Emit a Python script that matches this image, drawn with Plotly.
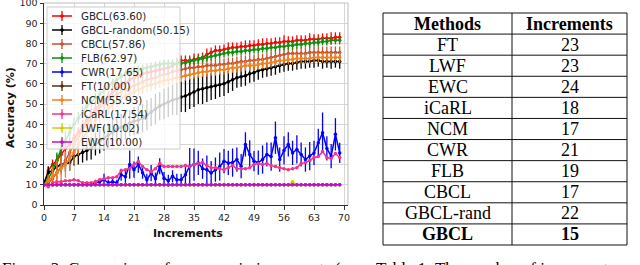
import plotly.graph_objects as go

# ---------------- data ----------------
increments = list(range(70))

gbcl = [10, 17, 20, 22, 25, 28, 30, 33, 36, 39,
        42, 45, 47.5, 50, 52, 54, 56, 57.5, 59, 60.5,
        62, 63, 64, 65, 65.5, 66, 66.5, 67, 67.5, 68,
        69, 70, 71.5, 71.5, 71.5, 72, 72.5, 73, 74.5, 75.5,
        76.5, 76.5, 77, 77.5, 78, 78, 78.5, 78.5, 79, 79,
        79.5, 79.5, 80, 80, 80.5, 80.5, 81, 81, 81, 81.5,
        81.5, 81.5, 82, 82, 82, 82.5, 82.5, 82.5, 83, 83]
gbcl_err = [0.5, 2, 2.5, 3, 3, 3.5, 3, 3, 2.5, 3,
            2.5, 3, 2.5, 3, 2.5, 2.5, 3, 2.5, 2.5, 3,
            2.5, 2.5, 3, 2.5, 2.5, 2.5, 3, 2.5, 2.5, 2.5,
            2.5, 3, 2.5, 2.5, 2.5, 3, 2.5, 2.5, 3, 2.5,
            2.5, 2.5, 2.5, 3, 2.5, 2.5, 2.5, 3, 2.5, 2.5,
            2.5, 3, 2.5, 2.5, 2.5, 2.5, 3, 2.5, 2.5, 2.5,
            2.5, 2.5, 3, 2.5, 2.5, 2.5, 2.5, 3, 2.5, 2.5]

gbcl_random = [11, 16, 17, 19, 20, 20.5, 21, 24, 25, 26,
               27, 28, 30, 31.5, 33, 34.5, 36, 37.5, 38.5, 39.5,
               40.5, 41.5, 42, 43, 44.5, 46, 47.5, 49, 50, 51,
               52, 52.5, 53.5, 54, 55, 56, 57, 57.5, 58, 58.5,
               59, 59.5, 60, 61, 62, 63, 63.5, 64, 65, 65.5,
               66.5, 67, 67.5, 68, 68.5, 69, 69.5, 70, 70, 70.5,
               71, 71, 71, 71.5, 71.5, 71, 71, 71, 71, 71]
gbcl_random_err = [1, 3, 3, 3.5, 3.5, 4, 4, 4.5, 5, 5,
                   5, 5.5, 5.5, 6, 6, 6, 6.5, 6, 6.5, 7,
                   6.5, 7, 7, 7, 7.5, 7, 7.5, 7, 7.5, 7.5,
                   7.5, 8, 7.5, 8, 7.5, 7.5, 7, 7.5, 7, 6.5,
                   6.5, 6, 6, 5.5, 5.5, 5, 5, 5, 4.5, 4.5,
                   4.5, 4, 4, 4, 4, 3.5, 3.5, 3.5, 3.5, 3.5,
                   3.5, 3.5, 3, 3.5, 3, 3.5, 3, 3.5, 3, 3.5]

cbcl = [10, 11, 13, 16, 19, 22, 26, 30, 34, 37,
        40, 43, 45.5, 48, 50, 52, 53.5, 55, 56, 57,
        58, 59, 60, 61, 62, 62.5, 63, 64, 64.5, 65,
        66, 66.5, 67, 67.5, 68, 68, 68.5, 68.5, 69, 69,
        69, 69.5, 69.5, 70, 70, 70.5, 71, 71, 71.5, 71.5,
        72, 72, 72.5, 73, 73.5, 74, 74.5, 75, 75, 75,
        75, 75, 75.5, 75.5, 75.5, 75.5, 75.5, 75.5, 75.5, 75.5]
cbcl_err = [0.5, 2, 3, 3.5, 4, 4, 4, 3.5, 3.5, 3.5,
            3.5, 3, 3, 3, 3, 3, 3, 3, 3, 3,
            3, 3, 3, 3, 3, 3, 3, 3, 3, 3,
            3, 3, 3, 3, 3, 3, 3, 3, 3, 3,
            3, 3, 3, 3, 3, 3, 3, 3, 3, 3,
            3, 3, 3, 3, 3, 3, 3, 3, 3, 3,
            3, 3, 3, 3, 3, 3, 3, 3, 3, 3]

flb = [10, 13, 17, 22, 28, 32, 36, 40, 43, 46,
       49, 51, 53, 55, 57, 59, 60.5, 62, 63.5, 65,
       66, 66.5, 67, 67.5, 68, 68.5, 69, 69.5, 70, 70,
       70, 70, 70, 70.5, 71, 71.5, 72, 72.5, 73, 73.5,
       74, 74.5, 75, 75.5, 75.5, 76, 76, 76.5, 76.5, 77,
       77, 77.5, 77.5, 78, 78, 78.5, 78.5, 79, 79, 79.5,
       79.5, 80, 80, 80.5, 80.5, 81, 81, 81.5, 81.5, 81.5]
flb_err = [0.5, 2, 3, 4, 5, 4.5, 4, 3.5, 3, 3,
           2.5, 2.5, 2.5, 2, 2, 2, 2, 2, 2, 2,
           2, 2, 2, 2, 2, 2, 2, 2, 2, 2,
           2, 2, 2, 2, 2, 2, 2, 2, 2, 2,
           2, 2, 2, 2, 2, 2, 2, 2, 2, 2,
           2, 2, 2, 2, 2, 2, 2, 2, 2, 2,
           2, 2, 2, 2, 2, 2, 2, 2, 2, 2]

cwr = [10, 10, 10, 10, 10, 10, 10, 10, 10, 10,
       10, 10, 11, 11.5, 12.5, 11, 11.5, 11, 15, 14,
       20, 17.5, 20, 16, 12.5, 15.8, 13, 19.2, 13.3, 12,
       14.2, 12.5, 12.5, 15, 19.2, 20, 20.8, 18, 17.5, 15.8,
       17.5, 19, 21.7, 20.8, 21, 22.5, 19.2, 30, 25, 21.7,
       21, 22.5, 25, 24, 33.3, 22.5, 27, 30, 25.8, 27.5,
       25, 22.5, 24.2, 25.8, 30.8, 35.8, 28, 24.2, 35, 25.8]
cwr_err = [0, 0, 0, 0, 0, 0, 0, 0, 0, 0,
           0, 0, 1.5, 1.5, 3, 1.5, 1.5, 1.5, 3, 3,
           7, 4, 4, 3, 3, 4, 3, 4, 3, 3,
           3, 3, 3, 5, 9, 8, 6, 5, 7, 6,
           6, 7, 6, 6, 7, 6, 6, 6, 7, 5,
           6, 7, 6, 7, 8, 6, 7, 6, 6, 7,
           6, 6, 7, 6, 7, 10, 6, 6, 8, 5]

ft = [10] * 70
ft_err = [0.3] * 70

ncm = [10, 12, 14, 16, 18, 20, 23, 26, 30, 33,
       36, 39, 42, 44, 46, 48, 50, 51.5, 53, 54,
       55, 56, 57, 58, 59, 59.5, 60, 61, 61.5, 62,
       62.5, 63, 63.5, 64, 64.5, 65, 65.5, 66, 66, 66.5,
       66.5, 67, 67, 67.5, 68, 68, 68.5, 69, 69, 69,
       69.5, 70, 70, 70.5, 71, 71.5, 71.5, 72, 72, 72.5,
       72.5, 72.5, 72.5, 73, 73, 73, 73, 73, 73, 73]
ncm_err = [0.5, 3, 5, 6, 6, 6.5, 6, 6, 5.5, 5,
           5, 4.5, 4, 4, 3.5, 3.5, 3, 3, 3, 3,
           3, 3, 3, 3, 3, 3, 3, 3, 3, 3,
           2.5, 2.5, 2.5, 2.5, 2.5, 2.5, 2.5, 2.5, 2.5, 2.5,
           2.5, 2.5, 2.5, 2.5, 2.5, 2.5, 2.5, 2.5, 2.5, 2.5,
           2.5, 2.5, 2.5, 2.5, 2.5, 2.5, 2.5, 2.5, 2.5, 2.5,
           2.5, 2.5, 2.5, 2.5, 2.5, 2.5, 2.5, 2.5, 2.5, 2.5]

icarl = [10, 9, 11, 11.5, 11.5, 12, 12, 12.5, 12, 11,
         11, 11, 11.5, 12.5, 13, 13.5, 13.5, 14, 17, 17.5,
         18, 20, 21.5, 19, 17.5, 16.5, 18, 20.5, 19, 19,
         19, 19, 19, 19.5, 19, 20, 20.5, 21, 19.5, 18.5,
         18.5, 18, 17.5, 18.5, 19.5, 18, 18, 18, 18.5, 20,
         20.5, 20, 20.5, 19.5, 19, 18.5, 18, 17.5, 18, 18.5,
         20.5, 21, 22, 23.5, 24, 26.5, 23.5, 23, 25.5, 23.5]
icarl_err = [0.5] * 70

lwf = [10, 10, 10, 10, 10, 10, 10, 10, 10, 10,
       10, 10, 10, 10, 10, 10, 10, 10, 10, 10,
       10, 10, 10, 10, 10, 10, 10, 10, 10, 10,
       10, 10, 10, 10, 10, 10, 10, 10, 10, 10,
       10, 10, 10, 10, 10, 10, 10, 10, 10, 10,
       10, 10, 10, 10, 10, 10, 10, 10, 11.5, 10,
       10, 10, 10, 10, 10, 10, 10, 10, 10, 10]
lwf_err = [0.2] * 70

ewc = [10] * 70
ewc_err = [0.6] * 70

series_labels = ["GBCL(63.60)", "GBCL-random(50.15)", "CBCL(57.86)", "FLB(62.97)",
                 "CWR(17.65)", "FT(10.00)", "NCM(55.93)", "iCaRL(17.54)",
                 "LWF(10.02)", "EWC(10.00)"]
series_values = [gbcl, gbcl_random, cbcl, flb, cwr, ft, ncm, icarl, lwf, ewc]
series_errors = [gbcl_err, gbcl_random_err, cbcl_err, flb_err, cwr_err, ft_err,
                 ncm_err, icarl_err, lwf_err, ewc_err]
series_colors = ["#ff0000", "#000000", "#c4532f", "#0f8f0f", "#0000ff", "#5a2d12",
                 "#f08020", "#f5338f", "#cccc00", "#c010c0"]

x_ticks = list(range(0, 71, 7))
y_ticks = list(range(0, 101, 10))

table_methods = ["FT", "LWF", "EWC", "iCaRL", "NCM", "CWR", "FLB", "CBCL", "GBCL-rand", "GBCL"]
table_increments = [23, 23, 24, 18, 17, 21, 19, 17, 22, 15]
table_header = ["Methods", "Increments"]

caption_fig = "Figure 2: Comparison of accuracy in increments ("
caption_tab = "Table 1: The number of increments needed to reach"

# ---------------- layout geometry (pixels) ----------------
W, H = 640, 265
L, R, T, B = 44, 348, 3, 205


def px(x):
    return (x - L) / (R - L)


def py(y):
    return (B - y) / (B - T)


fig = go.Figure()
for name, vals, errs, col in zip(series_labels, series_values, series_errors, series_colors):
    fig.add_trace(go.Scatter(
        x=increments, y=vals, name=name, mode="lines+markers",
        line=dict(color=col, width=1.5),
        marker=dict(color=col, size=3.5),
        error_y=dict(type="data", array=errs, visible=True, color=col,
                     thickness=1.3, width=0),
        showlegend=False, hoverinfo="skip"))

tickfont = dict(family="DejaVu Sans", size=9.5, color="#262626")
fig.update_layout(
    width=W, height=H,
    margin=dict(l=L, r=W - R, t=T, b=H - B, pad=0, autoexpand=False),
    paper_bgcolor="white", plot_bgcolor="white",
    xaxis=dict(range=[0, 304 / (300 / 70)], tickvals=x_ticks, showgrid=True,
               gridcolor="#d6d6d6", gridwidth=1, ticks="outside", ticklen=3.5,
               tickcolor="#333", showline=True, linecolor="#333", linewidth=1,
               zeroline=False, tickfont=tickfont, automargin=False,
               ticklabeloverflow="allow"),
    yaxis=dict(range=[0, 100], tickvals=y_ticks, showgrid=True,
               gridcolor="#d6d6d6", gridwidth=1, ticks="outside", ticklen=3.5,
               tickcolor="#333", showline=True, linecolor="#333", linewidth=1,
               zeroline=False, tickfont=tickfont, automargin=False,
               ticklabeloverflow="allow"),
)

shapes = []
annotations = []
# top / right frame
shapes.append(dict(type="line", xref="paper", yref="paper", x0=0, x1=1, y0=1, y1=1,
                   line=dict(color="#bdbdbd", width=1), layer="above"))
shapes.append(dict(type="line", xref="paper", yref="paper", x0=1, x1=1, y0=0, y1=1,
                   line=dict(color="#bdbdbd", width=1), layer="above"))

# custom legend
shapes.append(dict(type="rect", xref="paper", yref="paper", x0=px(47), x1=px(180),
                   y0=py(149), y1=py(7), fillcolor="rgba(255,255,255,0.8)",
                   line=dict(color="#cccccc", width=1), layer="above"))
for i, (name, col) in enumerate(zip(series_labels, series_colors)):
    yc = 16 + 14 * i
    shapes.append(dict(type="line", xref="paper", yref="paper", x0=px(52), x1=px(72),
                       y0=py(yc), y1=py(yc), line=dict(color=col, width=1.5), layer="above"))
    shapes.append(dict(type="line", xref="paper", yref="paper", x0=px(62), x1=px(62),
                       y0=py(yc - 5), y1=py(yc + 5), line=dict(color=col, width=1.3),
                       layer="above"))
    shapes.append(dict(type="circle", xref="paper", yref="paper", x0=px(60.5), x1=px(63.5),
                       y0=py(yc + 1.5), y1=py(yc - 1.5), fillcolor=col,
                       line=dict(color=col, width=0.5), layer="above"))
    annotations.append(dict(text=name, xref="paper", yref="paper", x=px(79), y=py(yc),
                            xanchor="left", yanchor="middle", showarrow=False,
                            font=dict(family="DejaVu Sans", size=10.3, color="#262626")))

# axis titles
annotations.append(dict(text="Accuracy (%)", xref="paper", yref="paper", x=px(10), y=py(108),
                        textangle=-90, showarrow=False, xanchor="center", yanchor="middle",
                        font=dict(family="DejaVu Sans", size=11, color="#111", weight="bold")))
annotations.append(dict(text="Increments", xref="paper", yref="paper", x=px(188), y=py(233),
                        showarrow=False, xanchor="center", yanchor="middle",
                        font=dict(family="DejaVu Sans", size=11, color="#111", weight="bold")))

# table
tx0, tx1, tmid = 383, 627, 512
ty0, ty1 = 13, 245
nrows = len(table_methods) + 1
rh = (ty1 - ty0) / nrows
for k in range(nrows + 1):
    yy = ty0 + rh * k
    shapes.append(dict(type="line", xref="paper", yref="paper", x0=px(tx0), x1=px(tx1),
                       y0=py(yy), y1=py(yy), line=dict(color="#111", width=1)))
for xx in (tx0, tmid, tx1):
    shapes.append(dict(type="line", xref="paper", yref="paper", x0=px(xx), x1=px(xx),
                       y0=py(ty0), y1=py(ty1), line=dict(color="#111", width=1)))

serif = "Liberation Serif, Times New Roman, serif"
c1 = (tx0 + tmid) / 2
c2 = (tmid + tx1) / 2
rows = [(table_header[0], table_header[1], True)] + \
       [(m, str(v), m == "GBCL") for m, v in zip(table_methods, table_increments)]
for k, (a, b, bold) in enumerate(rows):
    yc = ty0 + rh * (k + 0.5)
    for txt, cx in ((a, c1), (b, c2)):
        annotations.append(dict(text=txt, xref="paper", yref="paper", x=px(cx), y=py(yc),
                                xanchor="center", yanchor="middle", showarrow=False,
                                font=dict(family=serif, size=18, color="#000",
                                          weight="bold" if bold else "normal")))

# clipped captions
annotations.append(dict(text=caption_fig, xref="paper", yref="paper", x=px(0), y=py(256.5),
                        xanchor="left", yanchor="top", showarrow=False,
                        font=dict(family=serif, size=17, color="#000")))
annotations.append(dict(text=caption_tab, xref="paper", yref="paper", x=px(374), y=py(256.5),
                        xanchor="left", yanchor="top", showarrow=False,
                        font=dict(family=serif, size=17, color="#000")))

fig.update_layout(shapes=shapes, annotations=annotations)
fig.write_html("out.html", config={"displayModeBar": False},
               post_script="document.body.style.margin='0';document.body.style.overflow='hidden';")
